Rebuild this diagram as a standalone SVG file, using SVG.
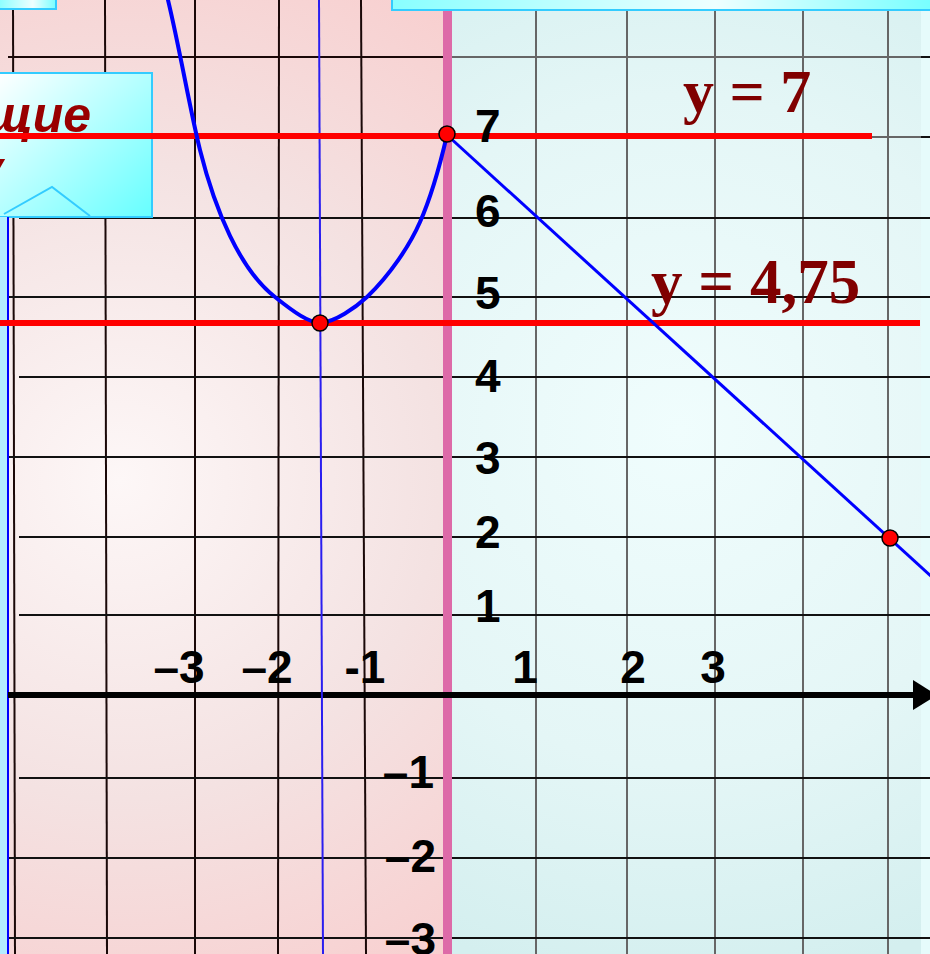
<svg xmlns="http://www.w3.org/2000/svg" width="930" height="954" viewBox="0 0 930 954">
<defs>
<radialGradient id="pinkBg" cx="120" cy="480" r="580" gradientUnits="userSpaceOnUse">
<stop offset="0" stop-color="#fdf7f7"/>
<stop offset="0.55" stop-color="#f4e2e2"/>
<stop offset="1" stop-color="#f8cfcf"/>
</radialGradient>
<radialGradient id="cyanBg" cx="680" cy="430" r="560" gradientUnits="userSpaceOnUse">
<stop offset="0" stop-color="#f0fdfd"/>
<stop offset="0.6" stop-color="#e4f6f6"/>
<stop offset="1" stop-color="#d4efef"/>
</radialGradient>
<linearGradient id="boxFill" x1="0" y1="0" x2="1" y2="1">
<stop offset="0" stop-color="#ffffff"/>
<stop offset="1" stop-color="#66ffff"/>
</linearGradient>
<linearGradient id="topFill" x1="0" y1="0" x2="1" y2="0">
<stop offset="0" stop-color="#88ffff"/>
<stop offset="0.6" stop-color="#eeffff"/>
<stop offset="1" stop-color="#77ffff"/>
</linearGradient>
<marker id="arrow" markerWidth="4" markerHeight="5" refX="0.5" refY="2.5" orient="auto" markerUnits="strokeWidth">
<path d="M0,0 L4,2.5 L0,5 Z" fill="#000"/>
</marker>
</defs>
<style>
.gl{stroke:#1a0808;stroke-width:2;fill:none}
.gr{stroke:#666;stroke-width:2;fill:none}
.hk{stroke:#111;stroke-width:2;fill:none}
.red{stroke:#ff0000;stroke-width:6;fill:none}
.curve{stroke:#0000ff;stroke-width:4;fill:none;stroke-linejoin:round;stroke-linecap:round}
.num{font-family:"Liberation Sans",Arial,sans-serif;font-weight:bold;font-size:46px;fill:#000}
.eq{font-family:"Liberation Serif","Times New Roman",serif;font-weight:bold;fill:#800000}
.dot{fill:#ff0000;stroke:#000;stroke-width:1.5}
.box{stroke:#33ccff;stroke-width:2}
</style>

<g id="background">
<rect x="0" y="0" width="448" height="954" fill="url(#pinkBg)"/>
<rect x="448" y="0" width="474" height="954" fill="url(#cyanBg)"/>
<rect x="921" y="0" width="9" height="954" fill="#e6fbfb"/>
</g>

<g id="grid">
<line class="gl" x1="13" y1="0" x2="15" y2="954"/>
<line class="gl" x1="105" y1="0" x2="107" y2="954"/>
<line class="gl" x1="195" y1="0" x2="195" y2="954"/>
<line class="gl" x1="279" y1="0" x2="278" y2="954"/>
<line class="gl" x1="361" y1="0" x2="366" y2="954"/>
<line class="gr" x1="536" y1="10" x2="536" y2="954"/>
<line class="gr" x1="627" y1="10" x2="627" y2="954"/>
<line class="gr" x1="715" y1="10" x2="715" y2="954"/>
<line class="gr" x1="803" y1="10" x2="803" y2="954"/>
<line class="gr" x1="888" y1="10" x2="888" y2="954"/>
<line class="gl" x1="8" y1="57" x2="443" y2="57"/>
<line class="gr" x1="452" y1="57" x2="921" y2="57"/>
<line class="hk" x1="921" y1="57" x2="930" y2="57"/>
<line class="gr" x1="452" y1="137" x2="921" y2="137"/>
<line class="hk" x1="921" y1="137" x2="930" y2="137"/>
<line class="hk" x1="19" y1="218" x2="930" y2="218"/>
<line class="hk" x1="8" y1="297" x2="930" y2="297"/>
<line class="hk" x1="19" y1="377" x2="930" y2="377"/>
<line class="hk" x1="8" y1="457" x2="930" y2="457"/>
<line class="hk" x1="19" y1="537" x2="930" y2="537"/>
<line class="hk" x1="19" y1="615" x2="930" y2="615"/>
<line class="hk" x1="19" y1="778" x2="930" y2="778"/>
<line class="hk" x1="8" y1="858" x2="930" y2="858"/>
<line class="hk" x1="8" y1="938" x2="930" y2="938"/>
</g>

<g id="divider">
<rect x="443" y="10" width="9" height="944" fill="#dd6aa8"/>
</g>

<g id="top-boxes">
<rect class="box" x="-2" y="-2" width="58" height="11" fill="url(#topFill)"/>
<rect class="box" x="392" y="-2" width="540" height="12" fill="url(#topFill)"/>
</g>

<g id="callout-box">
<rect class="box" x="-2" y="73" width="154" height="144" fill="url(#boxFill)"/>
<polyline points="4,214 52,187 90,216" fill="none" stroke="#33ccff" stroke-width="2"/>
<text x="91" y="132" text-anchor="end" font-family="'Liberation Sans',Arial,sans-serif" font-weight="bold" font-style="italic" font-size="50" fill="#990000">щие</text>
<text x="3" y="186" text-anchor="end" font-family="'Liberation Sans',Arial,sans-serif" font-weight="bold" font-style="italic" font-size="50" fill="#990000">у</text>
</g>

<g id="left-strip">
<rect x="0" y="217" width="8" height="737" fill="#b4ecff"/>
<line x1="8" y1="217" x2="8" y2="954" stroke="#0000ff" stroke-width="2"/>
</g>

<g id="connectors">
<line id="x-axis" x1="8" y1="695" x2="916" y2="695" stroke="#000" stroke-width="6" marker-end="url(#arrow)"/>
<line id="asymptote" x1="319" y1="0" x2="323" y2="954" stroke="#2a1ef0" stroke-width="2"/>
<line id="line-y7" class="red" x1="0" y1="136" x2="872" y2="136"/>
<line id="line-y475" class="red" x1="0" y1="323" x2="920" y2="323"/>
<path id="parabola" class="curve" d="M168,0 C180,50 190,110 200,150 C215,210 240,270 275,297 C295,313 308,322 320,323 C335,322 355,308 367,297 C390,275 410,245 420,222 C432,195 440,165 447,135"/>
<line id="ray" x1="447" y1="135" x2="932" y2="577" stroke="#0000ff" stroke-width="3"/>
</g>

<g id="points">
<circle id="p1" class="dot" cx="447" cy="134" r="8"/>
<circle id="p2" class="dot" cx="320" cy="323" r="8"/>
<circle id="p3" class="dot" cx="890" cy="538" r="8"/>
</g>

<g id="y-labels">
<text class="num" x="475" y="142">7</text>
<text class="num" x="475" y="227">6</text>
<text class="num" x="475" y="309">5</text>
<text class="num" x="475" y="392">4</text>
<text class="num" x="475" y="474">3</text>
<text class="num" x="475" y="548">2</text>
<text class="num" x="475" y="622">1</text>
<text class="num" x="434" y="788" text-anchor="end">–1</text>
<text class="num" x="436" y="872" text-anchor="end">–2</text>
<text class="num" x="436" y="955" text-anchor="end">–3</text>
</g>

<g id="x-labels">
<text class="num" x="525" y="683" text-anchor="middle">1</text>
<text class="num" x="633" y="683" text-anchor="middle">2</text>
<text class="num" x="713" y="683" text-anchor="middle">3</text>
<text class="num" x="179" y="683" text-anchor="middle">–3</text>
<text class="num" x="267" y="683" text-anchor="middle">–2</text>
<text class="num" x="365" y="683" text-anchor="middle">-1</text>
</g>

<g id="equations">
<text class="eq" x="683" y="112" font-size="62">y = 7</text>
<text class="eq" x="651" y="303" font-size="63">y = 4,75</text>
</g>
</svg>
